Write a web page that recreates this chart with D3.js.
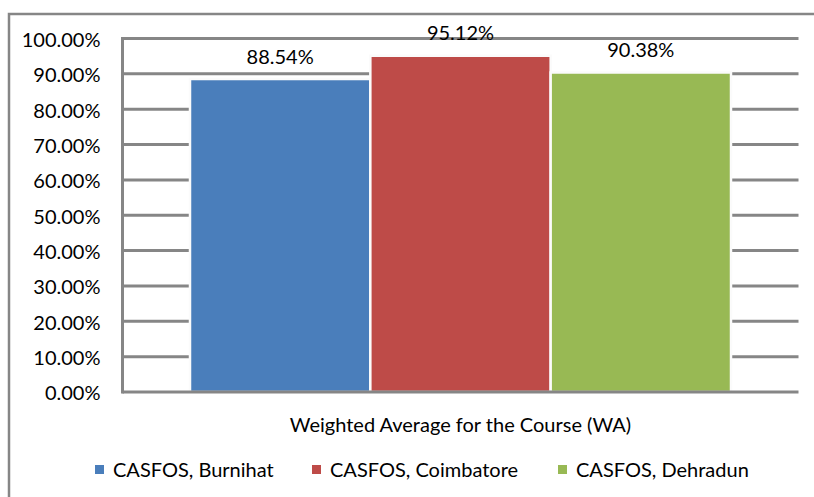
<!DOCTYPE html>
<html>
<head>
<meta charset="utf-8">
<script src="https://cdn.jsdelivr.net/npm/d3@7"></script>
<style>
  body { margin: 0; background: #fff; }
  svg { display: block; font-family: Lato, "Open Sans", sans-serif; }
</style>
</head>
<body>
<div id="chart"></div>
<script>
/*
Chart data
*/
var category = "Weighted Average for the Course (WA)";
var seriesNames = ["CASFOS, Burnihat", "CASFOS, Coimbatore", "CASFOS, Dehradun"];
var seriesValues = [88.54, 95.12, 90.38];
var seriesColors = ["#4a7ebb", "#be4b48", "#98b954"];
var yTicks = [0, 10, 20, 30, 40, 50, 60, 70, 80, 90, 100];

var width = 814, height = 497;
var plotLeft = 122.5, plotRight = 798.5, plotTop = 38.5, plotBottom = 392;
var gridColor = "#868686";
var fontSize = "20px";

var svg = d3.select("#chart")
            .append("svg")
            .attr("width", width)
            .attr("height", height);

// outer chart frame (runs off the right/bottom edge like the original)
svg.append("path")
   .attr("d", "M9,500 L9,14 L820,14")
   .attr("fill", "none")
   .attr("stroke", gridColor)
   .attr("stroke-width", 2.5);

var y = d3.scaleLinear()
          .domain([0, 100])
          .range([plotBottom, plotTop]);

var x0 = d3.scaleBand()
           .domain([category])
           .range([plotLeft, plotRight])
           .paddingInner(0)
           .paddingOuter(0.1);

var groupPad = 67.5;
var x1 = d3.scaleBand()
           .domain(seriesNames)
           .range([x0(category) + groupPad - x0.step() * 0.1, x0(category) + x0.bandwidth() - groupPad + x0.step() * 0.1]);

// gridlines
svg.append("g")
   .selectAll("line")
   .data(yTicks.slice(1))
   .enter()
   .append("line")
   .attr("x1", plotLeft)
   .attr("x2", plotRight)
   .attr("y1", function(d){ return y(d); })
   .attr("y2", function(d){ return y(d); })
   .attr("stroke", gridColor)
   .attr("stroke-width", 3);

// y axis labels
var yAxis = d3.axisLeft(y)
              .tickValues(yTicks)
              .tickSize(0)
              .tickPadding(22)
              .tickFormat(function(d){ return d3.format(".2f")(d) + "%"; });

var yg = svg.append("g")
            .attr("transform", "translate(" + plotLeft + ",1.5)")
            .call(yAxis);
yg.select(".domain").remove();
yg.selectAll("text")
  .attr("font-size", fontSize)
  .attr("font-family", "Lato, 'Open Sans', sans-serif")
  .attr("fill", "#000");

// bars
var bars = svg.append("g")
              .selectAll("rect")
              .data(seriesNames)
              .enter()
              .append("rect")
              .attr("x", function(d){ return x1(d); })
              .attr("width", x1.bandwidth())
              .attr("y", function(d,i){ return y(seriesValues[i]); })
              .attr("height", function(d,i){ return plotBottom - y(seriesValues[i]); })
              .attr("fill", function(d,i){ return seriesColors[i]; })
              .attr("stroke", "#fbfbfb")
              .attr("stroke-width", 2.5);

// axis lines
svg.append("line")
   .attr("x1", plotLeft).attr("x2", plotLeft)
   .attr("y1", plotTop - 1.5).attr("y2", plotBottom + 1.5)
   .attr("stroke", gridColor)
   .attr("stroke-width", 3);
svg.append("line")
   .attr("x1", plotLeft).attr("x2", plotRight)
   .attr("y1", plotBottom).attr("y2", plotBottom)
   .attr("stroke", gridColor)
   .attr("stroke-width", 3);

// data labels
svg.append("g")
   .selectAll("text")
   .data(seriesNames)
   .enter()
   .append("text")
   .attr("x", function(d){ return x1(d) + x1.bandwidth() / 2; })
   .attr("y", function(d,i){ return y(seriesValues[i]) - 15.5; })
   .attr("text-anchor", "middle")
   .attr("font-size", fontSize)
   .text(function(d,i){ return seriesValues[i].toFixed(2) + "%"; });

// category label
svg.append("text")
   .attr("x", x0(category) + x0.bandwidth() / 2)
   .attr("y", 432)
   .attr("text-anchor", "middle")
   .attr("font-size", fontSize)
   .text(category);

// legend
var legendX = [95, 312, 558];
var legend = svg.append("g")
                .selectAll("g")
                .data(seriesNames)
                .enter()
                .append("g")
                .attr("transform", function(d,i){ return "translate(" + legendX[i] + ",465)"; });
legend.append("rect")
      .attr("width", 9)
      .attr("height", 9)
      .attr("fill", function(d,i){ return seriesColors[i]; });
legend.append("text")
      .attr("x", 18)
      .attr("y", 11.5)
      .attr("font-size", fontSize)
      .text(function(d){ return d; });
</script>
</body>
</html>
